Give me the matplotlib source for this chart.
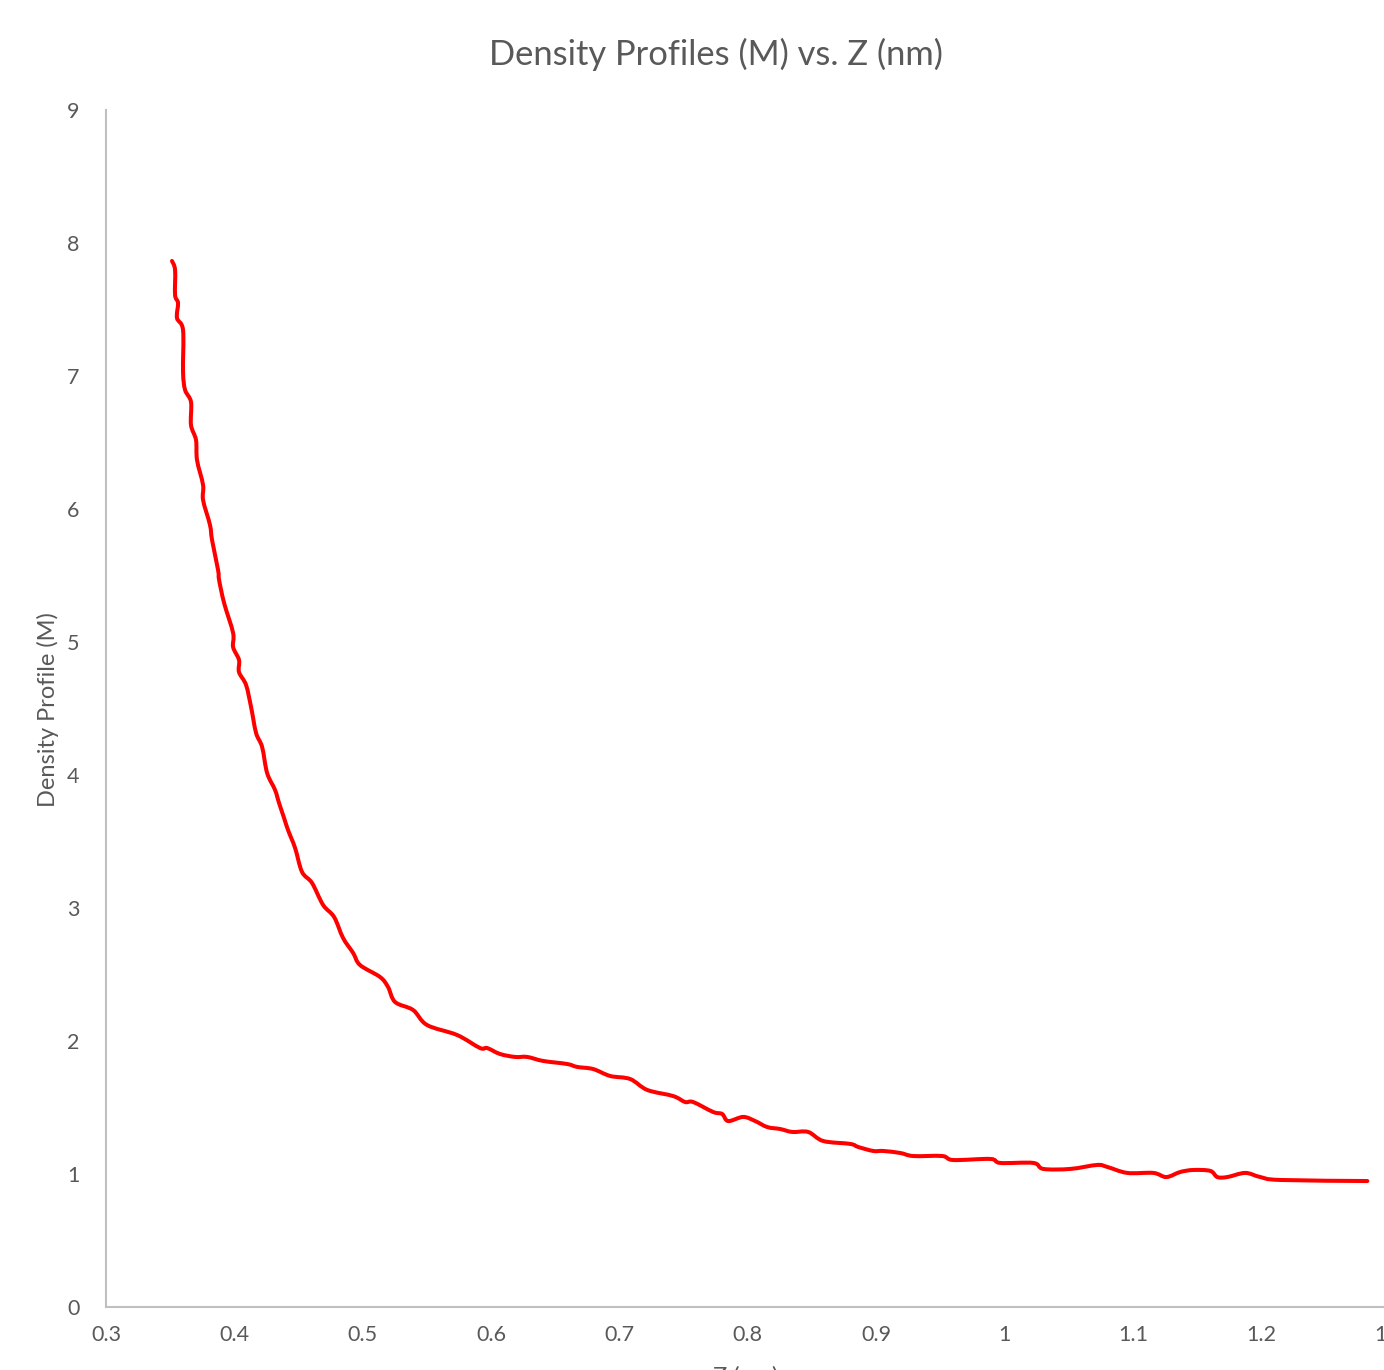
import matplotlib
matplotlib.use("Agg")
import numpy as np
import matplotlib.pyplot as plt
from matplotlib.path import Path
from matplotlib.patches import PathPatch

# Density profile vs. Z
z_nm = [0.3514, 0.3538, 0.3538, 0.3561, 0.3553, 0.3600, 0.3600, 0.3616, 0.3662, 0.3662,
        0.3701, 0.3709, 0.3756, 0.3756, 0.3810, 0.3826, 0.3873, 0.3881, 0.3920, 0.3990,
        0.3990, 0.4036, 0.4036, 0.4091, 0.4130, 0.4169, 0.4216, 0.4255, 0.4317, 0.4348,
        0.4387, 0.4418, 0.4473, 0.4527, 0.4605, 0.4691, 0.4777, 0.4847, 0.4925, 0.4979,
        0.5135, 0.5197, 0.5252, 0.5392, 0.5501, 0.5735, 0.5914, 0.5969, 0.6070, 0.6187,
        0.6281, 0.6405, 0.6592, 0.6670, 0.6795, 0.6927, 0.7083, 0.7216, 0.7418, 0.7512,
        0.7574, 0.7730, 0.7800, 0.7847, 0.7964, 0.8057, 0.8151, 0.8252, 0.8346, 0.8470,
        0.8587, 0.8798, 0.8860, 0.8977, 0.9055, 0.9187, 0.9289, 0.9515, 0.9600, 0.9889,
        0.9967, 1.0224, 1.0302, 1.0512, 1.0722, 1.0800, 1.0956, 1.1159, 1.1260, 1.1369,
        1.1470, 1.1603, 1.1657, 1.1735, 1.1875, 1.1992, 1.2148, 1.2826]
density_m = [7.865, 7.797, 7.609, 7.549, 7.436, 7.346, 7.030, 6.895, 6.805, 6.632,
             6.519, 6.368, 6.180, 6.068, 5.880, 5.767, 5.541, 5.466, 5.293, 5.068,
             4.962, 4.865, 4.774, 4.677, 4.511, 4.316, 4.211, 4.015, 3.887, 3.789,
             3.677, 3.586, 3.451, 3.271, 3.188, 3.023, 2.932, 2.774, 2.662, 2.571,
             2.481, 2.406, 2.293, 2.233, 2.120, 2.045, 1.947, 1.947, 1.902, 1.880,
             1.880, 1.850, 1.827, 1.805, 1.789, 1.737, 1.714, 1.632, 1.586, 1.541,
             1.541, 1.466, 1.451, 1.398, 1.429, 1.398, 1.353, 1.338, 1.316, 1.316,
             1.248, 1.226, 1.203, 1.173, 1.173, 1.158, 1.135, 1.135, 1.105, 1.113,
             1.083, 1.083, 1.038, 1.038, 1.068, 1.053, 1.008, 1.008, 0.977, 1.015,
             1.030, 1.023, 0.977, 0.977, 1.008, 0.977, 0.955, 0.947]

x_ticks = [0.3, 0.4, 0.5, 0.6, 0.7, 0.8, 0.9, 1.0, 1.1, 1.2, 1.3]
x_tick_labels = ["0.3", "0.4", "0.5", "0.6", "0.7", "0.8", "0.9", "1", "1.1", "1.2", "1.3"]
y_ticks = [0, 1, 2, 3, 4, 5, 6, 7, 8, 9]

text_col = "#595959"
axis_col = "#BFBFBF"
plt.rcParams['font.family'] = ['Lato', 'DejaVu Sans']

fig = plt.figure(figsize=(13.84, 13.70), dpi=100)
ax = fig.add_axes([0.0766, 0.0460, 0.9275, 0.8737])

ax.set_xlim(0.3, 1.3)
ax.set_ylim(0, 9)


def smooth_path(xs, ys):
    # Excel-style smoothed line: Catmull-Rom segments as cubic Bezier curves
    p = np.column_stack([xs, ys])
    verts = [p[0]]
    codes = [Path.MOVETO]
    n = len(p)
    for i in range(n - 1):
        p0 = p[i - 1] if i > 0 else p[i]
        p1, p2 = p[i], p[i + 1]
        p3 = p[i + 2] if i + 2 < n else p[i + 1]
        c1 = p1 + (p2 - p0) / 6.0
        c2 = p2 - (p3 - p1) / 6.0
        verts += [c1, c2, p2]
        codes += [Path.CURVE4] * 3
    return Path(verts, codes)


ax.add_patch(PathPatch(smooth_path(z_nm, density_m), facecolor="none",
                       edgecolor="#FF0000", lw=2.9, joinstyle="round",
                       capstyle="round"))

ax.set_xticks(x_ticks)
ax.set_xticklabels(x_tick_labels)
ax.set_yticks(y_ticks)
ax.tick_params(length=0, labelsize=15.5, colors=text_col)
ax.tick_params(axis="x", pad=13)
ax.tick_params(axis="y", pad=19)

for side in ("top", "right"):
    ax.spines[side].set_visible(False)
for side in ("left", "bottom"):
    ax.spines[side].set_color(axis_col)
    ax.spines[side].set_linewidth(1.5)

fig.text(0.517, 0.960, "Density Profiles (M) vs. Z (nm)", ha="center", va="center",
         fontsize=24.8, color=text_col)
fig.text(0.035, 0.482, "Density Profile (M)", rotation=90, ha="center", va="center",
         fontsize=17, color=text_col)
fig.text(0.539, 0.003, "Z (nm)", ha="center", va="top", fontsize=17, color=text_col)

fig.savefig("out.png", dpi=100, facecolor="white")
